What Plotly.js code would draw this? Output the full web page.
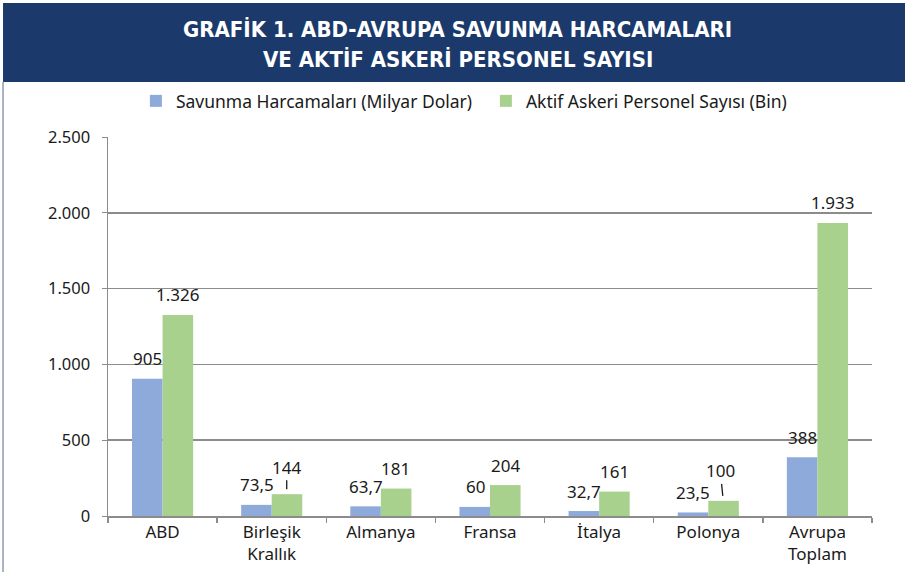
<!DOCTYPE html>
<html>
<head>
<meta charset="utf-8">
<script src="https://cdn.plot.ly/plotly-3.0.1.min.js"></script>
<style>html,body{margin:0;padding:0;background:#fff;}#chart{width:905px;height:572px;}</style>
</head>
<body>
<div id="chart"></div>
<script>
// ---- data ----
const categories = ["ABD", "Birleşik<br>Krallık", "Almanya", "Fransa", "İtalya", "Polonya", "Avrupa<br>Toplam"];
const savunmaHarcamalari = [905, 73.5, 63.7, 60, 32.7, 23.5, 388];
const aktifPersonel = [1326, 144, 181, 204, 161, 100, 1933];
const seriesNames = ["Savunma Harcamaları (Milyar Dolar)", "Aktif Askeri Personel Sayısı (Bin)"];
const yTickVals = [0, 500, 1000, 1500, 2000, 2500];
const titleLines = ["GRAFİK 1. ABD-AVRUPA SAVUNMA HARCAMALARI", "VE AKTİF ASKERİ PERSONEL SAYISI"];

// ---- helpers ----
function fmtTR(v) {
  const parts = String(v).split(".");
  const intPart = parts[0].replace(/\B(?=(\d{3})+(?!\d))/g, ".");
  return parts.length > 1 ? intPart + "," + parts[1] : intPart;
}

const FONT = "'Noto Sans', 'Open Sans', sans-serif";
const TFONT = "'DejaVu Sans Condensed', 'DejaVu Sans', sans-serif";
const TXT = "#1a1a1a";
const BLUE = "#8eaadb";
const GREEN = "#a9d18e";
const GRID = "#8c8c8c";

const traces = [
  {type: "bar", name: seriesNames[0], x: categories, y: savunmaHarcamalari,
   marker: {color: BLUE}, hoverinfo: "skip"},
  {type: "bar", name: seriesNames[1], x: categories, y: aktifPersonel,
   marker: {color: GREEN}, hoverinfo: "skip"}
];

// label styling (leader lines for some green labels)
const leader = {1: {ax: 0, ay: -27}, 5: {ax: -3, ay: -30}};
const annotations = [];
categories.forEach((c, i) => {
  annotations.push({x: c, y: savunmaHarcamalari[i], xref: "x", yref: "y",
    text: fmtTR(savunmaHarcamalari[i]), showarrow: false, xshift: -15, yshift: 20,
    yanchor: "middle", font: {family: FONT, size: 17, color: TXT}});
  const L = leader[i];
  if (L) {
    annotations.push({x: c, y: aktifPersonel[i], xref: "x", yref: "y",
      text: fmtTR(aktifPersonel[i]), showarrow: true, arrowhead: 0, arrowwidth: 1.3,
      arrowcolor: TXT, ax: L.ax, ay: L.ay, standoff: 5, xshift: 15,
      font: {family: FONT, size: 17, color: TXT}});
  } else {
    annotations.push({x: c, y: aktifPersonel[i], xref: "x", yref: "y",
      text: fmtTR(aktifPersonel[i]), showarrow: false, xshift: 15, yshift: 20,
      yanchor: "middle", font: {family: FONT, size: 17, color: TXT}});
  }
});
// title lines
[1.2836, 1.204].forEach((yy, k) => {
  annotations.push({xref: "paper", yref: "paper", x: 0.4575, y: yy, xanchor: "center", yanchor: "middle",
    text: "<b>" + titleLines[k] + "</b>", showarrow: false,
    font: {family: TFONT, size: 22, color: "#ffffff"}});
});

const layout = {
  width: 905, height: 572,
  margin: {l: 108, r: 33, t: 137, b: 56},
  paper_bgcolor: "#ffffff", plot_bgcolor: "#ffffff",
  separators: ",.",
  barmode: "group", bargap: 0.44, bargroupgap: 0,
  font: {family: FONT, size: 16, color: TXT},
  showlegend: true,
  legend: {orientation: "h", x: 0.0365, xanchor: "left", y: 1.095, yanchor: "middle",
    entrywidth: 305, entrywidthmode: "pixels",
    font: {family: FONT, size: 17.5, color: TXT}, bgcolor: "rgba(0,0,0,0)", traceorder: "normal"},
  xaxis: {type: "category", showgrid: false, showline: true, linecolor: GRID, linewidth: 1.5,
    ticks: "outside", tickson: "boundaries", ticklen: 5, tickcolor: GRID, tickwidth: 1.3,
    tickfont: {family: FONT, size: 17, color: TXT}, fixedrange: true},
  yaxis: {range: [0, 2500], tickvals: yTickVals, tickformat: ",", showgrid: true, gridcolor: GRID,
    gridwidth: 1.5, showline: true, linecolor: GRID, linewidth: 1.5, ticks: "outside", ticklen: 5,
    tickcolor: GRID, zeroline: false, ticklabelstandoff: 8,
    tickfont: {family: FONT, size: 16.5, color: TXT}, fixedrange: true},
  shapes: [
    {type: "rect", xref: "paper", yref: "paper", x0: -0.1374, x1: 1.05, y0: 1.145, y1: 1.3536,
     fillcolor: "#1b3a6b", line: {width: 0}, layer: "below"},
    {type: "line", xref: "paper", yref: "paper", x0: -0.1374, x1: -0.1374, y0: -0.2, y1: 1.145,
     line: {color: "#8c9bb3", width: 1.5}}
  ],
  annotations: annotations
};

Plotly.newPlot("chart", traces, layout, {displayModeBar: false, staticPlot: true});
</script>
</body>
</html>
